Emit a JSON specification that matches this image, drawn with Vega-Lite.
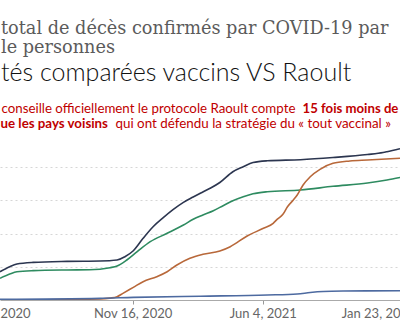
{
  "$schema": "https://vega.github.io/schema/vega-lite/v6.json",
  "width": 400,
  "height": 166,
  "autosize": {"type": "none"},
  "padding": {"top": 134, "left": 0, "right": 0, "bottom": 26},
  "background": "white",
  "config": {"view": {"stroke": null}},
  "title": {
    "text": ["total de décès confirmés par COVID-19 par", "le personnes"],
    "subtitle": "tés comparées vaccins VS Raoult",
    "anchor": "start",
    "frame": "group",
    "offset": 16,
    "dx": 1,
    "font": "DejaVu Serif",
    "fontSize": 17.7,
    "fontWeight": "normal",
    "color": "#5b5b5b",
    "lineHeight": 18.6,
    "subtitleFont": "Lato",
    "subtitleFontSize": 25,
    "subtitleFontWeight": 300,
    "subtitleColor": "#111111",
    "subtitlePadding": 4
  },
  "data": {
    "values": [
      {"s": "A", "d": "2020-04-26", "v": 426},
      {"s": "A", "d": "2020-05-11", "v": 502},
      {"s": "A", "d": "2020-05-22", "v": 542},
      {"s": "A", "d": "2020-06-16", "v": 567},
      {"s": "A", "d": "2020-08-07", "v": 582},
      {"s": "A", "d": "2020-09-27", "v": 587},
      {"s": "A", "d": "2020-10-23", "v": 602},
      {"s": "A", "d": "2020-11-04", "v": 652},
      {"s": "A", "d": "2020-11-17", "v": 742},
      {"s": "A", "d": "2020-12-02", "v": 929},
      {"s": "A", "d": "2020-12-17", "v": 1100},
      {"s": "A", "d": "2021-01-02", "v": 1240},
      {"s": "A", "d": "2021-01-17", "v": 1360},
      {"s": "A", "d": "2021-02-02", "v": 1470},
      {"s": "A", "d": "2021-02-17", "v": 1550},
      {"s": "A", "d": "2021-02-28", "v": 1607},
      {"s": "A", "d": "2021-03-15", "v": 1682},
      {"s": "A", "d": "2021-03-30", "v": 1770},
      {"s": "A", "d": "2021-04-19", "v": 1932},
      {"s": "A", "d": "2021-05-05", "v": 2008},
      {"s": "A", "d": "2021-05-20", "v": 2070},
      {"s": "A", "d": "2021-06-11", "v": 2096},
      {"s": "A", "d": "2021-08-01", "v": 2113},
      {"s": "A", "d": "2021-09-20", "v": 2146},
      {"s": "A", "d": "2021-11-12", "v": 2191},
      {"s": "A", "d": "2021-12-06", "v": 2221},
      {"s": "A", "d": "2021-12-12", "v": 2233},
      {"s": "A", "d": "2022-01-01", "v": 2278},
      {"s": "B", "d": "2020-04-26", "v": 326},
      {"s": "B", "d": "2020-05-11", "v": 391},
      {"s": "B", "d": "2020-05-22", "v": 426},
      {"s": "B", "d": "2020-06-16", "v": 442},
      {"s": "B", "d": "2020-08-07", "v": 452},
      {"s": "B", "d": "2020-09-11", "v": 455},
      {"s": "B", "d": "2020-10-12", "v": 487},
      {"s": "B", "d": "2020-10-23", "v": 512},
      {"s": "B", "d": "2020-11-07", "v": 602},
      {"s": "B", "d": "2020-11-23", "v": 728},
      {"s": "B", "d": "2020-12-13", "v": 878},
      {"s": "B", "d": "2021-01-08", "v": 1004},
      {"s": "B", "d": "2021-02-02", "v": 1130},
      {"s": "B", "d": "2021-02-17", "v": 1215},
      {"s": "B", "d": "2021-03-04", "v": 1280},
      {"s": "B", "d": "2021-03-20", "v": 1345},
      {"s": "B", "d": "2021-04-04", "v": 1420},
      {"s": "B", "d": "2021-04-19", "v": 1495},
      {"s": "B", "d": "2021-05-05", "v": 1555},
      {"s": "B", "d": "2021-05-20", "v": 1600},
      {"s": "B", "d": "2021-06-11", "v": 1631},
      {"s": "B", "d": "2021-08-01", "v": 1657},
      {"s": "B", "d": "2021-09-20", "v": 1712},
      {"s": "B", "d": "2021-11-12", "v": 1762},
      {"s": "B", "d": "2021-12-12", "v": 1807},
      {"s": "B", "d": "2022-01-01", "v": 1845},
      {"s": "C", "d": "2020-04-26", "v": 0},
      {"s": "C", "d": "2020-09-27", "v": 15},
      {"s": "C", "d": "2020-10-12", "v": 28},
      {"s": "C", "d": "2020-10-23", "v": 50},
      {"s": "C", "d": "2020-11-01", "v": 100},
      {"s": "C", "d": "2020-11-17", "v": 191},
      {"s": "C", "d": "2020-12-02", "v": 276},
      {"s": "C", "d": "2020-12-23", "v": 351},
      {"s": "C", "d": "2021-01-08", "v": 426},
      {"s": "C", "d": "2021-01-23", "v": 527},
      {"s": "C", "d": "2021-02-12", "v": 628},
      {"s": "C", "d": "2021-03-04", "v": 688},
      {"s": "C", "d": "2021-03-30", "v": 738},
      {"s": "C", "d": "2021-04-15", "v": 803},
      {"s": "C", "d": "2021-05-11", "v": 964},
      {"s": "C", "d": "2021-06-05", "v": 1080},
      {"s": "C", "d": "2021-06-20", "v": 1155},
      {"s": "C", "d": "2021-06-26", "v": 1215},
      {"s": "C", "d": "2021-07-05", "v": 1290},
      {"s": "C", "d": "2021-07-12", "v": 1405},
      {"s": "C", "d": "2021-07-21", "v": 1506},
      {"s": "C", "d": "2021-07-27", "v": 1581},
      {"s": "C", "d": "2021-08-05", "v": 1732},
      {"s": "C", "d": "2021-08-16", "v": 1857},
      {"s": "C", "d": "2021-08-31", "v": 1968},
      {"s": "C", "d": "2021-09-20", "v": 2058},
      {"s": "C", "d": "2021-10-16", "v": 2093},
      {"s": "C", "d": "2021-11-12", "v": 2108},
      {"s": "C", "d": "2022-01-01", "v": 2134},
      {"s": "D", "d": "2020-04-26", "v": 10},
      {"s": "D", "d": "2020-09-27", "v": 25},
      {"s": "D", "d": "2020-11-17", "v": 40},
      {"s": "D", "d": "2021-02-28", "v": 57},
      {"s": "D", "d": "2021-06-11", "v": 75},
      {"s": "D", "d": "2021-07-27", "v": 90},
      {"s": "D", "d": "2021-08-16", "v": 113},
      {"s": "D", "d": "2021-09-05", "v": 128},
      {"s": "D", "d": "2021-10-06", "v": 135},
      {"s": "D", "d": "2022-01-01", "v": 140}
    ]
  },
  "layer": [
    {
      "mark": {"type": "line", "strokeWidth": 1.6, "clip": true, "interpolate": "monotone"},
      "encoding": {
        "x": {
          "field": "d",
          "type": "temporal",
          "scale": {"domain": [{"year": 2020, "month": 4, "date": 26}, {"year": 2022, "month": 1, "date": 1}]},
          "axis": {
            "values": [
              {"year": 2020, "month": 4, "date": 26},
              {"year": 2020, "month": 11, "date": 16},
              {"year": 2021, "month": 6, "date": 4},
              {"year": 2022, "month": 1, "date": 1}
            ],
            "labelExpr": "datum.index == 0 ? '2020' : datum.index == 1 ? 'Jan 23, 20' : timeFormat(datum.value, '%b %-d, %Y')",
            "labelFlush": true,
            "labelOverlap": false,
            "labelFont": "Lato",
            "labelFontSize": 13,
            "labelColor": "#666666",
            "labelPadding": 3,
            "tickSize": 4,
            "tickColor": "#999999",
            "tickOpacity": {"condition": {"test": "datum.index == 0 || datum.index == 1", "value": 0}, "value": 1},
            "domainColor": "#aaaaaa",
            "grid": false,
            "title": "conseille officiellement le protocole Raoult compte",
            "titleX": 1,
            "titleY": -187.5,
            "titleAngle": 0,
            "titleAlign": "left",
            "titleBaseline": "alphabetic",
            "titleFont": "Lato",
            "titleFontSize": 13.3,
            "titleFontWeight": "normal",
            "titleColor": "#c00000"
          }
        },
        "y": {
          "field": "v",
          "type": "quantitative",
          "scale": {"domain": [0, 2500], "nice": false},
          "axis": {
            "values": [500, 1000, 1500, 2000],
            "labels": false,
            "ticks": false,
            "domain": false,
            "grid": true,
            "gridColor": "#d6d6d6",
            "gridDash": [2, 3],
            "title": "15 fois moins de",
            "titleX": 302,
            "titleY": -21.5,
            "titleAngle": 0,
            "titleAlign": "left",
            "titleBaseline": "alphabetic",
            "titleFont": "Lato",
            "titleFontSize": 13.2,
            "titleFontWeight": "bold",
            "titleColor": "#c00000"
          }
        },
        "color": {
          "field": "s",
          "type": "nominal",
          "scale": {"domain": ["A", "B", "C", "D"], "range": ["#2c3650", "#2e8b60", "#b8683a", "#4d6aa0"]},
          "legend": null
        }
      }
    },
    {
      "mark": {"type": "line", "strokeOpacity": 0, "clip": true},
      "encoding": {
        "x": {
          "field": "d",
          "type": "temporal",
          "scale": {"domain": [{"year": 2020, "month": 4, "date": 26}, {"year": 2022, "month": 1, "date": 1}]},
          "axis": {
            "orient": "top",
            "labels": false,
            "ticks": false,
            "domain": false,
            "grid": false,
            "title": "ue les pays voisins",
            "titleX": 0,
            "titleY": -6.5,
            "titleAngle": 0,
            "titleAlign": "left",
            "titleBaseline": "alphabetic",
            "titleFont": "Lato",
            "titleFontSize": 13.3,
            "titleFontWeight": "bold",
            "titleColor": "#c00000"
          }
        },
        "y": {
          "field": "v",
          "type": "quantitative",
          "scale": {"domain": [0, 2500], "nice": false},
          "axis": {
            "orient": "right",
            "labels": false,
            "ticks": false,
            "domain": false,
            "grid": false,
            "title": "qui ont défendu la stratégie du «  tout vaccinal »",
            "titleX": -285,
            "titleY": -6.5,
            "titleAngle": 0,
            "titleAlign": "left",
            "titleBaseline": "alphabetic",
            "titleFont": "Lato",
            "titleFontSize": 13.4,
            "titleFontWeight": "normal",
            "titleColor": "#c00000"
          }
        },
        "detail": {"field": "s"}
      }
    }
  ],
  "resolve": {"axis": {"x": "independent", "y": "independent"}}
}
